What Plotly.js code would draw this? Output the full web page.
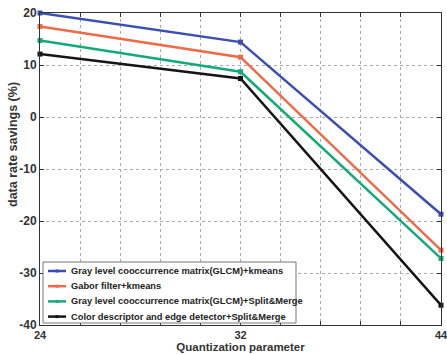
<!DOCTYPE html>
<html>
<head>
<meta charset="utf-8">
<script src="https://cdn.plot.ly/plotly-3.0.1.min.js"></script>
<style>html,body{margin:0;padding:0;background:#fff;}#chart{width:447px;height:354px;}</style>
</head>
<body>
<div id="chart"></div>
<script>
var categories = ['24', '32', '44'];
var seriesNames = [
  'Gray level cooccurrence matrix(GLCM)+kmeans',
  'Gabor filter+kmeans',
  'Gray level cooccurrence matrix(GLCM)+Split&Merge',
  'Color descriptor and edge detector+Split&Merge'
];
var glcmKmeans = [20.0, 14.4, -18.7];
var gaborKmeans = [17.4, 11.5, -25.6];
var glcmSplit = [14.7, 8.7, -27.2];
var colorEdgeSplit = [12.1, 7.4, -36.2];
var yTicks = [-40, -30, -20, -10, 0, 10, 20];
var yTickText = ['-40', '-30', '-20', '-10', '0', '10', '20'];

var colors = ['#3b4fb3', '#f06a48', '#13aa7a', '#151515'];
var series = [glcmKmeans, gaborKmeans, glcmSplit, colorEdgeSplit];
var xIdx = categories.map(function(_, i){ return i; });

var traces = series.map(function(s, k){
  return {
    x: xIdx, y: s, name: seriesNames[k], type: 'scatter', mode: 'lines+markers',
    line: {color: colors[k], width: 2.5},
    marker: {color: colors[k], size: 5, symbol: 'square'},
    cliponaxis: false, showlegend: false
  };
});

var xTickVals = [], xTickText = [];
for (var i = 0; i <= (categories.length - 1) * 5; i++) {
  xTickVals.push(i / 5);
  xTickText.push(i % 5 === 0 ? categories[i / 5] : '');
}

// page geometry (pixels) for the custom legend box
var W = 447, H = 354, mL = 40, mR = 6, mT = 13, mB = 29;
var pw = W - mL - mR, ph = H - mT - mB;
function px(x){ return (x - mL) / pw; }
function py(y){ return (H - mB - y) / ph; }

var fontFam = '"Liberation Sans", Arial, sans-serif';
var shapes = [{
  type: 'rect', xref: 'paper', yref: 'paper',
  x0: px(43), x1: px(296), y0: py(323), y1: py(262),
  fillcolor: '#fff', line: {color: '#777', width: 1}, layer: 'above'
}];
var annotations = [{
  text: 'data rate savings (%)', textangle: -90,
  xref: 'paper', yref: 'paper', x: px(13), y: py(145),
  xanchor: 'center', yanchor: 'middle', showarrow: false,
  font: {family: fontFam, size: 12.5, color: '#333', weight: 'bold'}
}];
seriesNames.forEach(function(name, k){
  var yc = 271 + k * 15.2;
  shapes.push({type: 'line', xref: 'paper', yref: 'paper', layer: 'above',
    x0: px(48), x1: px(66), y0: py(yc), y1: py(yc),
    line: {color: colors[k], width: 2.5}});
  shapes.push({type: 'rect', xref: 'paper', yref: 'paper', layer: 'above',
    x0: px(55.5), x1: px(58.5), y0: py(yc + 1.5), y1: py(yc - 1.5),
    fillcolor: colors[k], line: {width: 0}});
  annotations.push({text: name, xref: 'paper', yref: 'paper',
    x: px(69), y: py(yc), xanchor: 'left', yanchor: 'middle', showarrow: false,
    font: {family: fontFam, size: 9.3, color: '#222', weight: 'bold'}});
});

var layout = {
  width: W, height: H,
  margin: {l: mL, r: mR, t: mT, b: mB},
  paper_bgcolor: '#fff', plot_bgcolor: '#fff',
  showlegend: false,
  font: {family: fontFam, size: 12, color: '#333'},
  xaxis: {
    range: [0, 2], tickvals: xTickVals, ticktext: xTickText,
    ticks: 'inside', ticklen: 4, tickcolor: '#333',
    ticklabeloverflow: 'allow',
    showline: true, linecolor: '#333', linewidth: 1, mirror: 'ticks',
    showgrid: true, gridcolor: '#aaa', griddash: 'dot', gridwidth: 1,
    zeroline: false,
    tickfont: {family: fontFam, size: 11, color: '#333', weight: 'bold'},
    title: {text: 'Quantization parameter', standoff: 0,
            font: {family: fontFam, size: 11.5, color: '#333', weight: 'bold'}}
  },
  yaxis: {
    range: [-40, 20], tickvals: yTicks, ticktext: yTickText,
    ticks: 'inside', ticklen: 4, tickcolor: '#333',
    showline: true, linecolor: '#333', linewidth: 1, mirror: 'ticks',
    showgrid: true, gridcolor: '#aaa', griddash: 'dot', gridwidth: 1,
    zeroline: false,
    tickfont: {family: fontFam, size: 12, color: '#333', weight: 'bold'}
  },
  shapes: shapes,
  annotations: annotations
};

Plotly.newPlot('chart', traces, layout, {staticPlot: true, displayModeBar: false});
</script>
</body>
</html>
